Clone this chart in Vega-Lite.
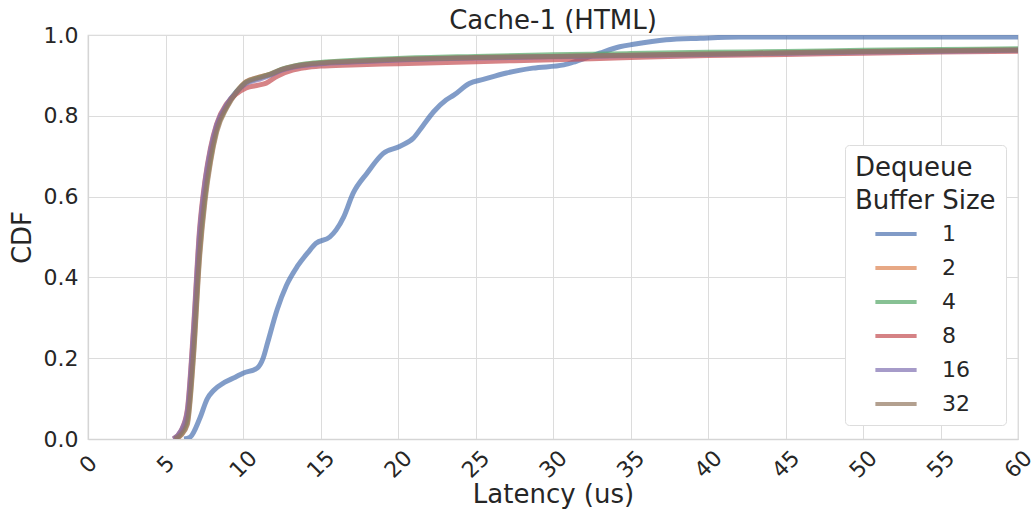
{
  "$schema": "https://vega.github.io/schema/vega-lite/v6.json",
  "autosize": "none",
  "width": 930,
  "height": 404,
  "padding": {"left": 88, "top": 35, "right": 13, "bottom": 80},
  "background": "white",
  "title": {"text": "Cache-1 (HTML)", "fontSize": 26, "font": "DejaVu Sans", "fontWeight": "normal", "color": "#262626", "offset": -10},
  "config": {
    "font": "DejaVu Sans",
    "view": {"stroke": "#d5d5d5", "strokeWidth": 1.25},
    "axis": {"gridColor": "#dcdcdc", "gridWidth": 1, "domainColor": "#d5d5d5", "domainWidth": 1.25, "ticks": false, "labelFont": "DejaVu Sans", "labelFontSize": 22, "labelColor": "#262626", "titleFont": "DejaVu Sans", "titleFontSize": 26, "titleFontWeight": "normal", "titleColor": "#262626"}
  },
  "data": {"values": [
    {"s":"1","x":6.2,"y":0},{"s":"1","x":6.6,"y":0.005},{"s":"1","x":7.2,"y":0.05},{"s":"1","x":7.7,"y":0.1},{"s":"1","x":8.1,"y":0.12},{"s":"1","x":8.8,"y":0.14},{"s":"1","x":9.5,"y":0.153},{"s":"1","x":10.0,"y":0.163},{"s":"1","x":10.9,"y":0.175},{"s":"1","x":11.3,"y":0.2},{"s":"1","x":11.6,"y":0.24},{"s":"1","x":12.2,"y":0.32},{"s":"1","x":12.8,"y":0.38},{"s":"1","x":13.5,"y":0.427},{"s":"1","x":14.2,"y":0.462},{"s":"1","x":14.7,"y":0.484},{"s":"1","x":15.6,"y":0.5},{"s":"1","x":16.0,"y":0.517},{"s":"1","x":16.5,"y":0.55},{"s":"1","x":17.1,"y":0.608},{"s":"1","x":18.0,"y":0.658},{"s":"1","x":19.05,"y":0.707},{"s":"1","x":20.1,"y":0.724},{"s":"1","x":21.0,"y":0.745},{"s":"1","x":21.6,"y":0.775},{"s":"1","x":22.3,"y":0.81},{"s":"1","x":23.1,"y":0.839},{"s":"1","x":23.6,"y":0.851},{"s":"1","x":24.6,"y":0.88},{"s":"1","x":25.5,"y":0.89},{"s":"1","x":27.0,"y":0.906},{"s":"1","x":28.7,"y":0.918},{"s":"1","x":30.7,"y":0.926},{"s":"1","x":31.5,"y":0.935},{"s":"1","x":33.0,"y":0.955},{"s":"1","x":34.3,"y":0.971},{"s":"1","x":35.2,"y":0.977},{"s":"1","x":37.3,"y":0.988},{"s":"1","x":39.5,"y":0.992},{"s":"1","x":42,"y":0.995},{"s":"1","x":60,"y":0.995},

    {"s":"2","x":5.6,"y":0},{"s":"2","x":6.0,"y":0.01},{"s":"2","x":6.4,"y":0.04},{"s":"2","x":6.8,"y":0.21},{"s":"2","x":7.2,"y":0.46},{"s":"2","x":7.55,"y":0.6},{"s":"2","x":7.9,"y":0.69},{"s":"2","x":8.3,"y":0.765},{"s":"2","x":8.95,"y":0.822},{"s":"2","x":9.6,"y":0.86},{"s":"2","x":10.2,"y":0.884},{"s":"2","x":11.0,"y":0.895},{"s":"2","x":11.8,"y":0.903},{"s":"2","x":12.5,"y":0.914},{"s":"2","x":13.2,"y":0.921},{"s":"2","x":14,"y":0.926},{"s":"2","x":15,"y":0.93},{"s":"2","x":17,"y":0.934},{"s":"2","x":20,"y":0.939},{"s":"2","x":25,"y":0.944},{"s":"2","x":30,"y":0.947},{"s":"2","x":35,"y":0.95},{"s":"2","x":40,"y":0.953},{"s":"2","x":45,"y":0.956},{"s":"2","x":50,"y":0.959},{"s":"2","x":55,"y":0.961},{"s":"2","x":60,"y":0.963},

    {"s":"4","x":5.6,"y":0},{"s":"4","x":6.0,"y":0.015},{"s":"4","x":6.4,"y":0.05},{"s":"4","x":6.8,"y":0.23},{"s":"4","x":7.2,"y":0.48},{"s":"4","x":7.55,"y":0.61},{"s":"4","x":7.9,"y":0.7},{"s":"4","x":8.3,"y":0.77},{"s":"4","x":8.95,"y":0.825},{"s":"4","x":9.6,"y":0.861},{"s":"4","x":10.2,"y":0.882},{"s":"4","x":11.0,"y":0.893},{"s":"4","x":11.8,"y":0.903},{"s":"4","x":12.5,"y":0.915},{"s":"4","x":13.2,"y":0.922},{"s":"4","x":14,"y":0.928},{"s":"4","x":15,"y":0.932},{"s":"4","x":17,"y":0.937},{"s":"4","x":20,"y":0.942},{"s":"4","x":25,"y":0.947},{"s":"4","x":30,"y":0.951},{"s":"4","x":35,"y":0.954},{"s":"4","x":40,"y":0.957},{"s":"4","x":45,"y":0.959},{"s":"4","x":50,"y":0.962},{"s":"4","x":55,"y":0.964},{"s":"4","x":60,"y":0.966},

    {"s":"8","x":5.5,"y":0},{"s":"8","x":6.0,"y":0.02},{"s":"8","x":6.4,"y":0.07},{"s":"8","x":6.8,"y":0.27},{"s":"8","x":7.2,"y":0.52},{"s":"8","x":7.55,"y":0.64},{"s":"8","x":7.9,"y":0.72},{"s":"8","x":8.3,"y":0.78},{"s":"8","x":8.95,"y":0.83},{"s":"8","x":9.6,"y":0.855},{"s":"8","x":10.2,"y":0.869},{"s":"8","x":11.0,"y":0.876},{"s":"8","x":11.5,"y":0.881},{"s":"8","x":12.2,"y":0.898},{"s":"8","x":13.2,"y":0.913},{"s":"8","x":14,"y":0.919},{"s":"8","x":15,"y":0.923},{"s":"8","x":17,"y":0.926},{"s":"8","x":20,"y":0.929},{"s":"8","x":25,"y":0.934},{"s":"8","x":30,"y":0.939},{"s":"8","x":35,"y":0.944},{"s":"8","x":40,"y":0.949},{"s":"8","x":45,"y":0.952},{"s":"8","x":50,"y":0.955},{"s":"8","x":55,"y":0.958},{"s":"8","x":60,"y":0.96},

    {"s":"16","x":5.5,"y":0},{"s":"16","x":6.0,"y":0.02},{"s":"16","x":6.4,"y":0.065},{"s":"16","x":6.8,"y":0.26},{"s":"16","x":7.2,"y":0.51},{"s":"16","x":7.55,"y":0.635},{"s":"16","x":7.9,"y":0.715},{"s":"16","x":8.3,"y":0.777},{"s":"16","x":8.95,"y":0.828},{"s":"16","x":9.6,"y":0.86},{"s":"16","x":10.2,"y":0.88},{"s":"16","x":11.0,"y":0.89},{"s":"16","x":11.8,"y":0.901},{"s":"16","x":12.5,"y":0.913},{"s":"16","x":13.2,"y":0.92},{"s":"16","x":14,"y":0.925},{"s":"16","x":15,"y":0.929},{"s":"16","x":17,"y":0.933},{"s":"16","x":20,"y":0.938},{"s":"16","x":25,"y":0.943},{"s":"16","x":30,"y":0.946},{"s":"16","x":35,"y":0.949},{"s":"16","x":40,"y":0.952},{"s":"16","x":45,"y":0.955},{"s":"16","x":50,"y":0.958},{"s":"16","x":55,"y":0.96},{"s":"16","x":60,"y":0.962},

    {"s":"32","x":5.6,"y":0},{"s":"32","x":6.0,"y":0.01},{"s":"32","x":6.4,"y":0.035},{"s":"32","x":6.8,"y":0.2},{"s":"32","x":7.2,"y":0.45},{"s":"32","x":7.55,"y":0.59},{"s":"32","x":7.9,"y":0.685},{"s":"32","x":8.3,"y":0.76},{"s":"32","x":8.95,"y":0.82},{"s":"32","x":9.6,"y":0.859},{"s":"32","x":10.2,"y":0.884},{"s":"32","x":11.0,"y":0.895},{"s":"32","x":11.8,"y":0.904},{"s":"32","x":12.5,"y":0.915},{"s":"32","x":13.2,"y":0.922},{"s":"32","x":14,"y":0.927},{"s":"32","x":15,"y":0.931},{"s":"32","x":17,"y":0.935},{"s":"32","x":20,"y":0.94},{"s":"32","x":25,"y":0.944},{"s":"32","x":30,"y":0.947},{"s":"32","x":35,"y":0.95},{"s":"32","x":40,"y":0.953},{"s":"32","x":45,"y":0.956},{"s":"32","x":50,"y":0.959},{"s":"32","x":55,"y":0.961},{"s":"32","x":60,"y":0.963}
  ]},
  "mark": {"type": "line", "strokeWidth": 5, "opacity": 0.7, "interpolate": "monotone", "clip": true},
  "encoding": {
    "x": {"field": "x", "type": "quantitative", "scale": {"domain": [0, 60], "nice": false, "zero": false},
      "axis": {"title": "Latency (us)", "values": [0,5,10,15,20,25,30,35,40,45,50,55,60], "labelAngle": -45, "labelAlign": "center", "labelBaseline": "middle", "labelPadding": 25, "titlePadding": 0, "labelFlush": false}},
    "y": {"field": "y", "type": "quantitative", "scale": {"domain": [0, 1], "nice": false},
      "axis": {"title": "CDF", "values": [0,0.2,0.4,0.6,0.8,1.0], "format": ".1f", "labelPadding": 10, "titlePadding": 8}},
    "color": {"field": "s", "type": "nominal", "sort": ["1","2","4","8","16","32"],
      "scale": {"domain": ["1","2","4","8","16","32"], "range": ["#4C72B0","#DD8452","#55A868","#C44E52","#8172B3","#937860"]},
      "legend": {"title": ["Dequeue", "Buffer Size"], "orient": "none", "legendX": 757, "legendY": 110,
        "titleFontSize": 26, "titleFont": "DejaVu Sans", "titleFontWeight": "normal", "titleColor": "#262626", "titleLineHeight": 33, "titlePadding": -3,
        "labelFontSize": 22, "labelFont": "DejaVu Sans", "labelColor": "#262626", "labelOffset": 23,
        "symbolType": "stroke", "symbolStrokeWidth": 4, "symbolSize": 1700, "symbolOpacity": 0.7, "symbolOffset": 18,
        "rowPadding": -0.7, "padding": 10, "fillColor": "white", "strokeColor": "#dddddd", "cornerRadius": 4}}
  }
}
